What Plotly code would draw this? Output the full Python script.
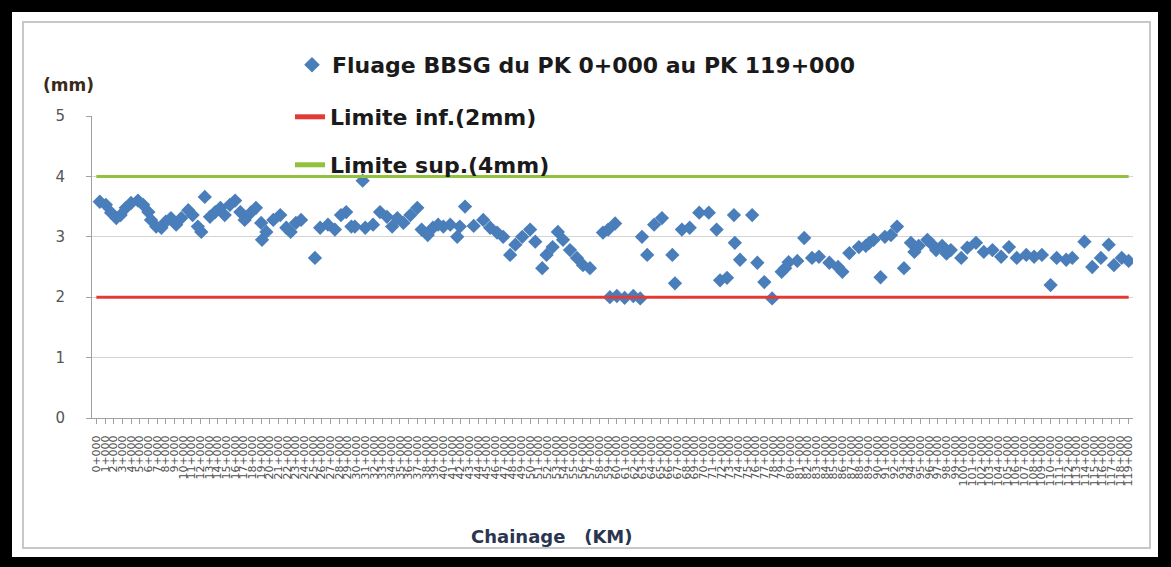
import plotly.graph_objects as go

# position le long du trace (km) et fluage mesure (mm)
pk = [0.4, 1.1, 1.7, 2.3, 2.8, 3.4, 4.0, 4.8, 5.4, 6.0,
      6.3, 6.9, 7.5, 8.0, 8.6, 9.2, 9.8, 10.6, 11.1, 11.7,
      12.1, 12.5, 13.1, 13.7, 14.3, 14.8, 15.4, 16.0, 16.6, 17.1,
      17.8, 18.4, 19.0, 19.1, 19.6, 20.4, 21.2, 21.9, 22.4, 23.0,
      23.6, 25.2, 25.8, 26.7, 27.5, 28.2, 28.8, 29.4,
      29.8, 30.7, 31.0, 31.9, 32.7, 33.5, 34.1, 34.7, 35.4, 36.2,
      37.0, 37.5, 38.2, 38.8, 39.4, 40.0, 40.8, 41.6, 41.9, 42.5,
      43.5, 44.6, 45.4, 46.2, 46.9, 47.7, 48.3, 49.1, 50.0, 50.6,
      51.4, 51.9, 52.6, 53.2, 53.8, 54.6, 55.4, 56.1, 56.9, 58.4,
      59.0, 59.8,
      59.2, 60.0, 60.9, 61.9, 62.7,
      62.9, 63.5, 64.3, 65.2, 66.4, 66.7, 67.5, 68.4, 69.5, 70.6,
      71.5, 71.9, 72.7, 73.5, 73.6, 74.2, 75.6, 76.2, 77.0, 77.9,
      79.0, 79.4, 79.8, 80.8, 81.6, 82.5, 83.3, 84.5, 85.5, 86.0,
      86.8, 87.9, 88.7, 89.1, 89.6,
      90.4, 90.9, 91.6, 92.3, 93.1, 93.9, 94.3, 94.8, 95.8, 96.3,
      96.8, 97.5, 98.0, 98.5, 99.7, 100.4, 101.4, 102.3, 103.3, 104.3,
      105.2, 106.1, 107.2, 108.1, 109.0, 110.0, 110.7, 111.8, 112.5, 113.9,
      114.8, 115.8, 116.7, 117.3, 118.2, 119.0]
fluage = [3.58, 3.53, 3.40, 3.31, 3.36, 3.48, 3.56, 3.60, 3.53, 3.41,
          3.28, 3.17, 3.15, 3.25, 3.31, 3.20, 3.31, 3.44, 3.36, 3.17,
          3.08, 3.66, 3.33, 3.41, 3.48, 3.36, 3.53, 3.60, 3.41, 3.28,
          3.40, 3.48, 3.23, 2.95, 3.08, 3.28, 3.36, 3.15, 3.08, 3.23,
          3.28, 2.65, 3.15, 3.20, 3.12, 3.36, 3.41, 3.17,
          3.17, 3.93, 3.15, 3.20, 3.41, 3.33, 3.17, 3.31, 3.23, 3.36,
          3.48, 3.12, 3.03, 3.15, 3.20, 3.17, 3.20, 3.00, 3.17, 3.50,
          3.18, 3.28, 3.15, 3.07, 3.00, 2.70, 2.87, 3.00, 3.12, 2.92,
          2.48, 2.70, 2.83, 3.08, 2.95, 2.78, 2.65, 2.53, 2.48, 3.07,
          3.12, 3.22,
          2.00, 2.02, 1.99, 2.02, 1.98,
          3.00, 2.70, 3.20, 3.31, 2.70, 2.23, 3.12, 3.15, 3.40, 3.40,
          3.12, 2.28, 2.32, 3.36, 2.90, 2.62, 3.36, 2.57, 2.25, 1.98,
          2.42, 2.48, 2.58, 2.60, 2.98, 2.65, 2.67, 2.57, 2.50, 2.42,
          2.73, 2.83, 2.85, 2.90, 2.95,
          2.33, 3.00, 3.03, 3.17, 2.48, 2.90, 2.75, 2.85, 2.95, 2.88,
          2.78, 2.85, 2.72, 2.78, 2.65, 2.82, 2.90, 2.75, 2.78, 2.67,
          2.83, 2.65, 2.70, 2.67, 2.70, 2.20, 2.65, 2.62, 2.65, 2.92,
          2.50, 2.65, 2.87, 2.53, 2.65, 2.60]

km = list(range(120))
pk_labels = [f"{k}+000" for k in km]
lim_inf = 2
lim_sup = 4

# dimensions de la zone de trace (px)
W, H = 1171, 567
L, R, T, B = 92, 38, 116, 149
pw, ph = W - L - R, H - T - B

def px(x):
    return (x - L) / pw

def py(y):
    return (H - B - y) / ph

fig = go.Figure()

fig.add_trace(go.Scatter(x=pk, y=fluage, mode='markers',
                         name='Fluage BBSG du PK 0+000 au PK 119+000',
                         marker=dict(symbol='diamond', size=11, color='#4a7ebb'),
                         legend='legend'))
fig.add_trace(go.Scatter(x=km, y=[lim_inf] * len(km), mode='lines',
                         name='Limite inf.(2mm)',
                         line=dict(color='#e23b33', width=3),
                         legend='legend2'))
fig.add_trace(go.Scatter(x=km, y=[lim_sup] * len(km), mode='lines',
                         name='Limite sup.(4mm)',
                         line=dict(color='#92c13e', width=3),
                         legend='legend3'))

leg_font = dict(family='DejaVu Sans', size=22, color='#1a1a1a', weight='bold')
leg_common = dict(bgcolor='rgba(0,0,0,0)', font=leg_font, xanchor='left',
                  yanchor='middle', itemsizing='constant')

# cadre noir + bordure grise du graphique
shapes = [
    dict(type='rect', xref='paper', yref='paper', layer='below',
         x0=px(12), x1=px(1158), y0=py(557), y1=py(12),
         fillcolor='white', line=dict(width=0)),
    dict(type='rect', xref='paper', yref='paper', layer='below',
         x0=px(23), x1=px(1150), y0=py(548), y1=py(22),
         fillcolor='white', line=dict(color='#c8c8c8', width=2)),
]

fig.update_layout(
    width=W, height=H,
    margin=dict(l=L, r=R, t=T, b=B),
    paper_bgcolor='black',
    plot_bgcolor='rgba(0,0,0,0)',
    showlegend=True,
    legend=dict(x=px(292), y=py(65), **leg_common),
    legend2=dict(x=px(290), y=py(117), **leg_common),
    legend3=dict(x=px(290), y=py(165), **leg_common),
    shapes=shapes,
    xaxis=dict(range=[-0.5, 119.5], tickmode='array', tickvals=km,
               ticktext=pk_labels, tickangle=-90,
               tickfont=dict(family='DejaVu Sans', size=11, color='#505050'),
               ticks='outside', ticklen=5, tickcolor='#a0a0a0',
               ticklabelstandoff=7,
               showgrid=False, zeroline=False,
               showline=True, linecolor='#a0a0a0', linewidth=1),
    yaxis=dict(range=[0, 5], tickvals=[0, 1, 2, 3, 4, 5],
               tickfont=dict(family='DejaVu Sans', size=15, color='#555555'),
               ticks='outside', ticklen=5, tickcolor='#a0a0a0',
               ticklabelstandoff=18,
               showgrid=True, gridcolor='#d4d4d4', gridwidth=1,
               zeroline=False,
               showline=True, linecolor='#a0a0a0', linewidth=1),
    annotations=[
        dict(text='(mm)', xref='paper', yref='paper', x=px(68), y=py(85),
             xanchor='center', yanchor='middle',
             showarrow=False, font=dict(family='DejaVu Sans', size=17,
                                        color='#3a2a1a', weight='bold')),
        dict(text='Chainage   (KM)', xref='paper', yref='paper',
             x=px(552), y=py(536), xanchor='center', yanchor='middle',
             showarrow=False,
             font=dict(family='DejaVu Sans', size=18, color='#2a3550',
                       weight='bold')),
    ],
)

fig.write_html("out.html", config={'displayModeBar': False},
               post_script="document.body.style.margin='0';"
                           "document.body.style.overflow='hidden';")
